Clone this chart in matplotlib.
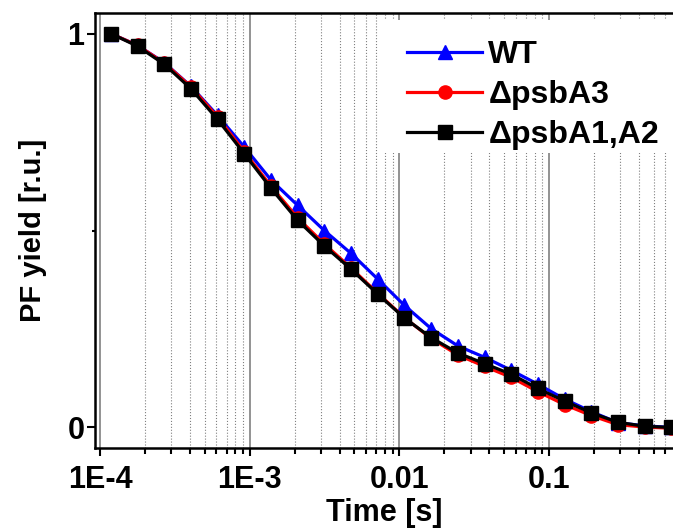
import matplotlib.pyplot as plt
import numpy as np
from matplotlib.ticker import LogLocator, NullFormatter
from matplotlib.patches import Rectangle

plt.rcParams['font.family'] = ['Liberation Sans', 'DejaVu Sans']
plt.rcParams['font.weight'] = 'bold'

# data
t = [1.18e-4, 1.78e-4, 2.69e-4, 4.05e-4, 6.1e-4, 9.2e-4, 1.39e-3, 2.09e-3,
     3.15e-3, 4.75e-3, 7.2e-3, 1.08e-2, 1.63e-2, 2.46e-2, 3.71e-2, 5.6e-2,
     8.4e-2, 0.127, 0.192, 0.289, 0.436, 0.657]
wt = [1.0, 0.970, 0.926, 0.866, 0.792, 0.712, 0.628, 0.564, 0.500, 0.442,
      0.376, 0.310, 0.251, 0.207, 0.178, 0.145, 0.110, 0.072, 0.040, 0.012,
      0.004, 0.0]
a3 = [1.0, 0.970, 0.925, 0.865, 0.788, 0.700, 0.612, 0.532, 0.466, 0.405,
      0.340, 0.279, 0.226, 0.184, 0.155, 0.127, 0.091, 0.058, 0.030, 0.007,
      0.001, -0.002]
a12 = [1.0, 0.968, 0.922, 0.860, 0.782, 0.695, 0.607, 0.526, 0.461, 0.402,
       0.338, 0.278, 0.228, 0.189, 0.162, 0.135, 0.099, 0.067, 0.037, 0.013,
       0.003, 0.0]
labels = ['WT', '\u0394psbA3', '\u0394psbA1,A2']
xticks = [1e-4, 1e-3, 1e-2, 1e-1]
xticklabels = ['1E-4', '1E-3', '0.01', '0.1']

fig = plt.figure(figsize=(6.73, 5.29), dpi=100)
ax = fig.add_axes([0.1412, 0.154, 0.8588, 0.822])

ax.plot(t, wt, '-^', color='blue', lw=2.3, ms=10, label=labels[0], zorder=3)
ax.plot(t, a3, '-o', color='red', lw=2.3, ms=9.5, label=labels[1], zorder=4)
ax.plot(t, a12, '-s', color='black', lw=2.3, ms=9.5, label=labels[2], zorder=5)

ax.set_xscale('log')
ax.set_xlim(10**-4.0334, 10**-0.1717)
ax.set_ylim(-0.051, 1.053)

ax.set_xticks(xticks)
ax.set_xticklabels(xticklabels)
ax.xaxis.set_minor_locator(LogLocator(base=10, subs=np.arange(2, 10), numticks=20))
ax.xaxis.set_minor_formatter(NullFormatter())
ax.set_yticks([0, 1])
ax.set_yticks([0.5], minor=True)

ax.grid(True, which='major', axis='x', color='#808080', lw=1.2, ls='-')
ax.grid(True, which='minor', axis='x', color='#808080', lw=0.8, ls=':')
ax.set_axisbelow(True)

ax.tick_params(axis='both', which='major', direction='out', length=5.5,
               width=1.5, labelsize=22)
ax.tick_params(axis='x', which='major', pad=7)
ax.tick_params(axis='y', which='major', pad=2)
ax.tick_params(axis='x', which='minor', direction='out', length=4, width=1.5)
ax.tick_params(axis='y', which='minor', direction='out', length=2.5, width=1.5)

for side in ['left', 'bottom', 'top']:
    ax.spines[side].set_linewidth(1.8)
ax.spines['right'].set_visible(False)

ax.set_xlabel('Time [s]', fontsize=22, fontweight='bold', labelpad=2)
ax.set_ylabel('PF yield [r.u.]', fontsize=21, fontweight='bold', labelpad=15)

# white box behind the legend hides the grid there
ax.add_patch(Rectangle((378/673, 1 - 153/529), 295/673, 133/529,
                       transform=fig.transFigure, facecolor='white',
                       edgecolor='none', zorder=1))

leg = ax.legend(loc='upper left', bbox_to_anchor=(407/673, 1 - 40/529),
                bbox_transform=fig.transFigure, fontsize=23, frameon=False,
                handlelength=2.35, handletextpad=0.2, labelspacing=0.32,
                borderpad=0, borderaxespad=0)
for txt in leg.get_texts():
    txt.set_fontweight('bold')

fig.savefig('out.png', dpi=100)
